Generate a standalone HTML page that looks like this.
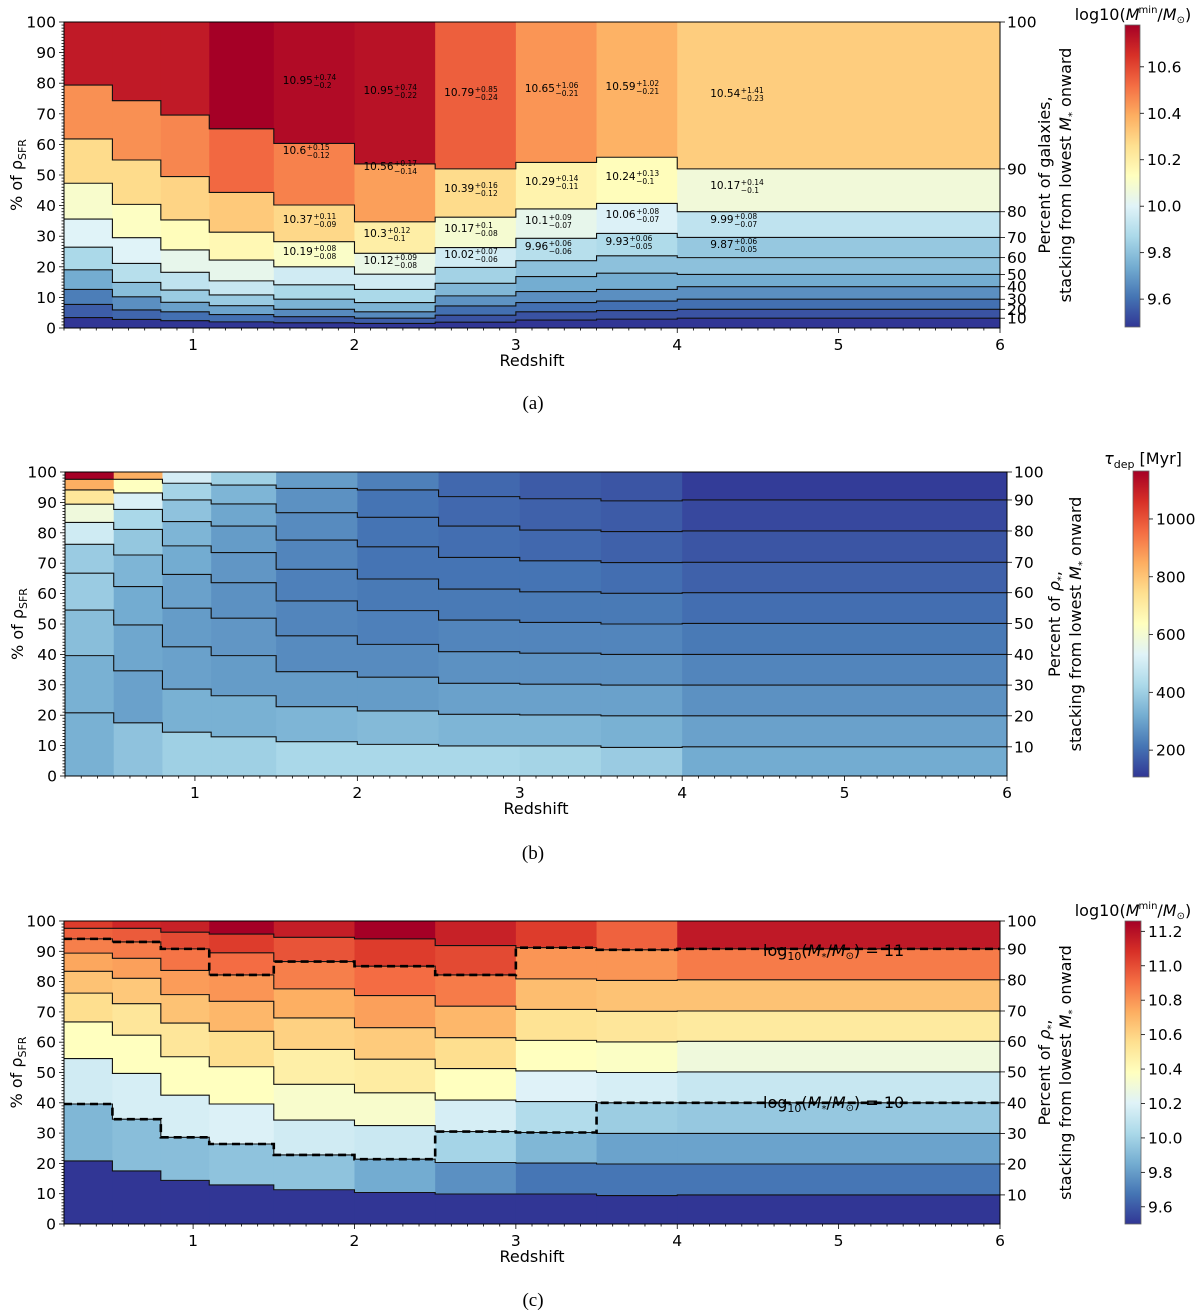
<!DOCTYPE html>
<html><head><meta charset="utf-8"><style>
body{margin:0;background:#fff;}
svg{display:block;font-family:"DejaVu Sans","Liberation Sans",sans-serif;}
.cap{font-family:"Liberation Serif","DejaVu Serif",serif;font-size:19px;}
</style></head><body>
<svg id="fig" width="1200" height="1310" viewBox="0 0 1200 1310" xmlns="http://www.w3.org/2000/svg">
<defs>
<linearGradient id="cmap" x1="0" y1="1" x2="0" y2="0">
<stop offset="0" stop-color="#313695"/><stop offset="0.1" stop-color="#4575b4"/><stop offset="0.2" stop-color="#74add1"/><stop offset="0.3" stop-color="#abd9e9"/><stop offset="0.4" stop-color="#e0f3f8"/><stop offset="0.5" stop-color="#ffffbf"/><stop offset="0.6" stop-color="#fee090"/><stop offset="0.7" stop-color="#fdae61"/><stop offset="0.8" stop-color="#f46d43"/><stop offset="0.9" stop-color="#d73027"/><stop offset="1" stop-color="#a50026"/>
</linearGradient>
</defs>
<g id="root"></g>
</svg>
<script>
const edges = [0.2,0.5,0.8,1.1,1.5,2.0,2.5,3.0,3.5,4.0,6.0];
// Panel (a): cumulative % of rho_SFR at galaxy-decile boundaries
const aBounds = [
[3.4,7.7,12.6,19.0,26.4,35.6,47.3,61.8,79.4],
[2.8,5.9,10.2,14.9,21.1,29.5,40.4,54.9,74.3],
[2.4,5.3,8.4,12.4,18.2,25.5,35.3,49.5,69.6],
[2.0,4.4,7.3,10.8,15.4,22.2,31.3,44.3,65.1],
[1.7,3.7,6.1,9.4,14.1,20.0,28.2,40.2,60.3],
[1.5,3.2,5.3,8.3,12.6,17.6,24.4,34.7,53.6],
[1.9,4.2,7.2,10.5,14.6,19.8,26.3,36.2,52.0],
[2.6,5.3,8.3,11.9,16.8,22.0,29.3,38.9,54.1],
[2.9,5.7,8.8,12.6,17.9,23.6,30.9,40.7,55.8],
[3.2,6.1,9.4,13.5,17.5,23.0,29.6,38.0,52.0]];
const aVals = [
[9.47,9.56,9.63,9.74,9.87,10.00,10.10,10.27,10.45,10.71],
[9.47,9.58,9.67,9.79,9.90,10.00,10.12,10.27,10.45,10.71],
[9.47,9.60,9.71,9.83,9.92,10.03,10.14,10.29,10.47,10.71],
[9.47,9.60,9.72,9.83,9.94,10.03,10.16,10.32,10.53,10.80],
[9.47,9.56,9.66,9.76,9.87,9.96,10.11,10.28,10.48,10.75],
[9.47,9.56,9.66,9.76,9.87,9.96,10.04,10.20,10.42,10.73],
[9.47,9.54,9.60,9.68,9.77,9.85,9.96,10.09,10.27,10.55],
[9.47,9.54,9.60,9.67,9.74,9.80,9.90,10.03,10.18,10.44],
[9.47,9.54,9.60,9.67,9.74,9.80,9.88,9.99,10.14,10.38],
[9.47,9.54,9.60,9.67,9.74,9.80,9.82,9.92,10.07,10.31]];
const aLabelBins = [4,4,4,4,5,5,5,5,6,6,6,6,7,7,7,7,8,8,8,8,9,9,9,9];
const aLabelY = [80,150,219,251,90,166,233,260,92,188,228,254,88,181,220,246,86,176,214,241,93,185,219,244];
const aLabelVal = ["10.95","10.6","10.37","10.19","10.95","10.56","10.3","10.12","10.79","10.39","10.17","10.02","10.65","10.29","10.1","9.96","10.59","10.24","10.06","9.93","10.54","10.17","9.99","9.87"];
const aLabelPlus = ["0.74","0.15","0.11","0.08","0.74","0.17","0.12","0.09","0.85","0.16","0.1","0.07","1.06","0.14","0.09","0.06","1.02","0.13","0.08","0.06","1.41","0.14","0.08","0.06"];
const aLabelMinus = ["0.2","0.12","0.09","0.08","0.22","0.14","0.1","0.08","0.24","0.12","0.08","0.06","0.21","0.11","0.07","0.06","0.21","0.1","0.07","0.05","0.23","0.1","0.07","0.05"];
// Panel (b)
const bBounds = [
[20.8,39.6,54.6,66.7,76.2,83.4,89.4,94.1,97.6],
[17.5,34.6,49.7,62.3,72.7,81.1,87.7,93.1,97.6],
[14.4,28.6,42.5,55.2,66.3,75.7,83.7,90.8,96.3],
[12.9,26.4,39.6,51.9,63.6,73.5,82.2,89.5,95.7],
[11.3,22.8,34.3,46.1,57.6,68.0,77.6,86.6,94.6],
[10.4,21.4,32.5,43.3,54.4,64.8,75.4,85.1,94.1],
[9.9,20.3,30.5,40.9,51.3,61.5,71.9,82.2,91.9],
[9.9,20.1,30.2,40.4,50.5,60.6,70.8,80.9,91.2],
[9.4,19.8,29.9,40.0,50.0,60.1,70.2,80.4,90.5],
[9.6,19.8,29.9,40.0,50.2,60.3,70.3,80.6,90.8]];
const bVals = [
[328,328,360,392,392,497,582,720,846,1163],
[370,296,307,317,339,381,423,518,634,846],
[402,328,296,286,296,317,339,370,413,508],
[402,328,286,275,265,275,286,307,339,402],
[423,339,286,254,243,233,243,254,265,286],
[423,349,286,254,233,222,212,212,212,233],
[423,339,296,265,243,222,212,201,191,191],
[413,339,296,265,243,222,212,191,180,169],
[392,328,296,265,243,222,201,180,169,159],
[317,296,265,243,222,201,180,159,138,117]];
// Panel (c)
const cBounds = [
[20.8,39.6,54.6,66.7,76.2,83.4,89.4,94.1,97.6],
[17.5,34.6,49.7,62.3,72.7,81.1,87.7,93.1,97.6],
[14.4,28.6,42.5,55.2,66.3,75.7,83.7,90.8,96.3],
[12.9,26.4,39.6,51.9,63.6,73.5,82.2,89.5,95.7],
[11.3,22.8,34.3,46.1,57.6,68.0,77.6,86.6,94.6],
[10.4,21.4,32.5,43.3,54.4,64.8,75.4,85.1,94.1],
[9.9,20.3,30.5,40.9,51.3,61.5,71.9,82.2,91.9],
[9.9,20.1,30.2,40.4,50.5,60.6,70.8,80.9,91.2],
[9.4,19.8,29.9,40.0,50.0,60.1,70.2,80.4,90.5],
[9.6,19.8,29.9,40.0,50.2,60.3,70.3,80.6,90.8]];
const cVals = [
[9.50,9.89,10.15,10.38,10.56,10.66,10.75,10.86,10.94,11.05],
[9.50,9.92,10.17,10.38,10.52,10.64,10.77,10.87,10.96,11.12],
[9.50,9.92,10.17,10.38,10.52,10.66,10.78,10.89,11.01,11.14],
[9.50,9.94,10.19,10.38,10.56,10.70,10.80,10.91,11.05,11.26],
[9.50,9.94,10.15,10.34,10.47,10.61,10.73,10.86,10.98,11.15],
[9.50,9.85,10.13,10.34,10.49,10.63,10.77,10.91,11.05,11.26],
[9.50,9.76,10.01,10.17,10.38,10.56,10.70,10.87,11.01,11.14],
[9.50,9.68,9.89,10.05,10.20,10.38,10.54,10.68,10.80,11.05],
[9.50,9.68,9.82,9.98,10.17,10.36,10.52,10.66,10.80,10.94],
[9.50,9.68,9.82,9.96,10.12,10.29,10.50,10.66,10.87,11.17]];
const cLine11 = [8,8,8,7,8,8,8,9,9,9];
const cLine10 = [2,2,2,2,2,2,3,3,4,4];
const xTicks = [1,2,3,4,5,6];
const yTicks = [0,10,20,30,40,50,60,70,80,90,100];
const rightTicks = [10,20,30,40,50,60,70,80,90,100];
const cbTicksA = [9.6,9.8,10.0,10.2,10.4,10.6];
const cbTicksB = [200,400,600,800,1000];
const cbTicksC = [9.6,9.8,10.0,10.2,10.4,10.6,10.8,11.0,11.2];

const NS="http://www.w3.org/2000/svg";
const root=document.getElementById('root');
function el(tag,attrs,parent,text){const e=document.createElementNS(NS,tag);for(const k in attrs)e.setAttribute(k,attrs[k]);if(text!==undefined)e.textContent=text;(parent||root).appendChild(e);return e;}
const stops=[[49,54,149],[69,117,180],[116,173,209],[171,217,233],[224,243,248],[255,255,191],[254,224,144],[253,174,97],[244,109,67],[215,48,39],[165,0,38]];
function cmap(t){t=Math.max(0,Math.min(1,t));const s=t*10,i=Math.min(9,Math.floor(s)),f=s-i;const a=stops[i],b=stops[i+1];return 'rgb('+a.map((v,k)=>Math.round(v+(b[k]-v)*f)).join(',')+')';}

function panel(P){
  const g=el('g',{});  
  const sx=z=>P.x0+(z-0.2)/(5.8)*(P.x1-P.x0);
  const sy=p=>P.y1-p/100*(P.y1-P.y0);
  const cells=el('g',{},g);  
  for(let b=0;b<10;b++){for(let k=0;k<10;k++){
    const lo=k==0?0:P.bounds[b][k-1], hi=k==9?100:P.bounds[b][k];
    const r=el('rect',{x:sx(edges[b]),y:sy(hi),width:sx(edges[b+1])-sx(edges[b])+0.5,height:sy(lo)-sy(hi)+0.3,fill:cmap((P.vals[b][k]-P.vmin)/(P.vmax-P.vmin))},cells);
    
    
  }}
  for(let k=0;k<9;k++){let d='';for(let b=0;b<10;b++){const y=sy(P.bounds[b][k]);d+=(b==0?'M':'L')+sx(edges[b])+','+y+'L'+sx(edges[b+1])+','+y;}
    const p=el('path',{d:d,fill:'none',stroke:'#111','stroke-width':1.1},g);
    
    }
  if(P.dashed){P.dashed.forEach((idx,n)=>{let d='';for(let b=0;b<10;b++){const y=sy(P.bounds[b][idx[b]-1]);d+=(b==0?'M':'L')+sx(edges[b])+','+y+'L'+sx(edges[b+1])+','+y;}
    const p=el('path',{d:d,fill:'none',stroke:'#000','stroke-width':2.6,'stroke-dasharray':'8,5'},g);
    
    });}
  const fr=el('rect',{x:P.x0,y:P.y0,width:P.x1-P.x0,height:P.y1-P.y0,fill:'none',stroke:'#000','stroke-width':1},g);
   
  for(let v=0;v<=100;v++){const y=sy(v);const maj=v%10==0;el('line',{x1:P.x0,x2:P.x0-(maj?5:2.5),y1:y,y2:y,stroke:'#000','stroke-width':0.8},g);}
  yTicks.forEach(v=>{const t=el('text',{x:P.x0-8,y:sy(v)+5.5,'text-anchor':'end','font-size':15.5},g,String(v));});
  for(let z=2;z<=60;z++){const x=sx(z/10);const maj=z%10==0;el('line',{x1:x,x2:x,y1:P.y1,y2:P.y1+(maj?5:2.5),stroke:'#000','stroke-width':0.8},g);}
  xTicks.forEach(v=>{const t=el('text',{x:sx(v),y:P.y1+22,'text-anchor':'middle','font-size':15.5},g,String(v));});
  const last=P.bounds[9];
  rightTicks.forEach((v,i)=>{const y=sy(i==9?100:last[i]);el('line',{x1:P.x1,x2:P.x1+5,y1:y,y2:y,stroke:'#000','stroke-width':0.8},g);
    const t=el('text',{x:P.x1+7,y:y+5.5,'font-size':15.5},g,String(v));});
  const xl=el('text',{x:(P.x0+P.x1)/2,y:P.y1+38,'text-anchor':'middle','font-size':16},g,'Redshift');
  const cy=(P.y0+P.y1)/2;
  const yl=el('text',{transform:'translate('+(P.x0-42)+','+cy+') rotate(-90)','text-anchor':'middle','font-size':16},g);
  
  el('tspan',{},yl,'% of ρ');el('tspan',{'font-size':11,dy:4},yl,'SFR');
  const rl=el('g',{},g);
  const t1=el('text',{transform:'translate('+P.rx1+','+cy+') rotate(-90)','text-anchor':'middle','font-size':16},rl);
  if(P.gal){el('tspan',{},t1,'Percent of galaxies,');}else{el('tspan',{},t1,'Percent of ');el('tspan',{'font-style':'italic'},t1,'ρ');el('tspan',{'font-size':10,dy:4},t1,'*');el('tspan',{dy:-4},t1,',');}
  const t2=el('text',{transform:'translate('+P.rx2+','+cy+') rotate(-90)','text-anchor':'middle','font-size':16},rl);
  el('tspan',{},t2,'stacking from lowest ');el('tspan',{'font-style':'italic'},t2,'M');el('tspan',{'font-size':10,dy:4},t2,'*');el('tspan',{dy:-4},t2,' onward');
  const cb=el('g',{},g);
  el('rect',{x:P.cx,y:P.cy0,width:P.cw,height:P.cy1-P.cy0,fill:'url(#cmap)',stroke:'#666','stroke-width':0.8},cb);
  P.cbTicks.forEach(v=>{const y=P.cy1-(v-P.vmin)/(P.vmax-P.vmin)*(P.cy1-P.cy0);el('line',{x1:P.cx+P.cw,x2:P.cx+P.cw+4,y1:y,y2:y,stroke:'#000','stroke-width':0.8},cb);
    const t=el('text',{x:P.cx+P.cw+7,y:y+5.5,'font-size':15.5},cb,P.cbFmt(v));});
  const ct=el('text',{x:P.ctx,y:P.cty,'text-anchor':'middle','font-size':16},cb);
  if(P.tau){el('tspan',{'font-style':'italic'},ct,'τ');el('tspan',{'font-size':11,dy:4},ct,'dep');el('tspan',{dy:-4},ct,' [Myr]');}
  else{el('tspan',{},ct,'log10(');el('tspan',{'font-style':'italic'},ct,'M');el('tspan',{'font-size':10,dy:-7,dx:-1},ct,'min');el('tspan',{dy:7},ct,'/');el('tspan',{'font-style':'italic'},ct,'M');el('tspan',{'font-size':10,dy:3},ct,'⊙');el('tspan',{dy:-3},ct,')');}
  const cap=el('text',{x:533,y:P.capY,'text-anchor':'middle',class:'cap'},g,P.cap);
  return {sx,sy,g};
}
const A=panel({name:'panel-a',x0:64,x1:1000,y0:22,y1:328,bounds:aBounds,vals:aVals,vmin:9.48,vmax:10.78,gal:true,rx1:1050,rx2:1071,cx:1125,cw:15,cy0:25,cy1:327,cbTicks:cbTicksA,cbFmt:v=>v.toFixed(1),ctx:1133,cty:20,cap:'(a)',capY:409});
const aLab=el('g',{},A.g);
aLabelVal.forEach((v,i)=>{const b=aLabelBins[i];const x=A.sx(edges[b])+(b==9?33:9);const y=aLabelY[i]+4;
  const t=el('text',{x:x,y:y,'font-size':10.5},aLab,v);
  const w=t.getComputedTextLength?t.getComputedTextLength():v.length*6.2;
  el('text',{x:x+w+0.5,y:y-4,'font-size':7.5},aLab,'+'+aLabelPlus[i]);
  el('text',{x:x+w+0.5,y:y+4,'font-size':7.5},aLab,'−'+aLabelMinus[i]);});
panel({name:'panel-b',x0:65,x1:1007,y0:472,y1:776,bounds:bBounds,vals:bVals,vmin:107,vmax:1166,gal:false,tau:true,rx1:1060,rx2:1081,cx:1133,cw:16,cy0:471,cy1:777,cbTicks:cbTicksB,cbFmt:v=>String(v),ctx:1143,cty:464,cap:'(b)',capY:859});
const C=panel({name:'panel-c',x0:64,x1:1000,y0:921,y1:1224,bounds:cBounds,vals:cVals,vmin:9.5,vmax:11.26,gal:false,rx1:1050,rx2:1071,cx:1125,cw:16,cy0:921,cy1:1224,cbTicks:cbTicksC,cbFmt:v=>v.toFixed(1),ctx:1133,cty:916,cap:'(c)',capY:1306,dashed:[cLine11,cLine10]});
[['11',956],['10',1108]].forEach(a=>{const t=el('text',{x:763,y:a[1],'font-size':16},C.g);
  
  
  el('tspan',{},t,'log');el('tspan',{'font-size':11,dy:4},t,'10');el('tspan',{dy:-4},t,'(');el('tspan',{'font-style':'italic'},t,'M');el('tspan',{'font-size':10,dy:4},t,'*');el('tspan',{dy:-4},t,'/');el('tspan',{'font-style':'italic'},t,'M');el('tspan',{'font-size':10,dy:3},t,'⊙');el('tspan',{dy:-3},t,') = '+a[0]);});
</script>
</body></html>
